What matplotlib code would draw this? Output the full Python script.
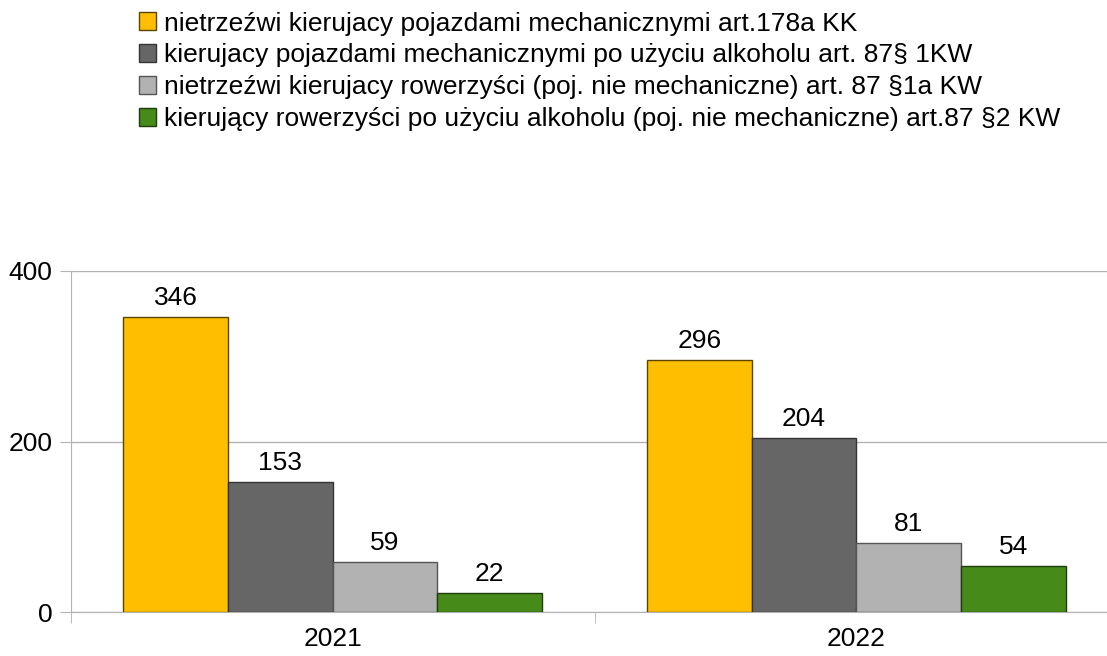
import numpy as np
import matplotlib.pyplot as plt
from matplotlib.ticker import FixedLocator

plt.rcParams['font.family'] = ['Liberation Sans', 'DejaVu Sans']

# dane
lata = ['2021', '2022']
serie = [
    'nietrzeźwi kierujacy pojazdami mechanicznymi art.178a KK',
    'kierujacy pojazdami mechanicznymi po użyciu alkoholu art. 87§ 1KW',
    'nietrzeźwi kierujacy rowerzyści (poj. nie mechaniczne) art. 87 §1a KW',
    'kierujący rowerzyści po użyciu alkoholu (poj. nie mechaniczne) art.87 §2 KW',
]
wartosci_2021 = [346, 153, 59, 22]
wartosci_2022 = [296, 204, 81, 54]
kolory = ['#ffbf00', '#666666', '#b2b2b2', '#468a1a']
krawedzie = ['#5a4400', '#333333', '#555555', '#1e3d0a']

fig = plt.figure(figsize=(11.07, 6.56), dpi=100)
ax = fig.add_axes([71 / 1107, 44 / 656, 1047 / 1107, 341 / 656])

x = np.arange(len(lata))
szer = 0.2
for i, nazwa in enumerate(serie):
    vals = [wartosci_2021[i], wartosci_2022[i]]
    bars = ax.bar(x + (i - 1.5) * szer, vals, szer, color=kolory[i],
                  edgecolor=krawedzie[i], linewidth=1, label=nazwa, zorder=3)
    for b, v in zip(bars, vals):
        ax.annotate(str(v), (b.get_x() + b.get_width() / 2, v),
                    xytext=(0, 5), textcoords='offset points',
                    ha='center', va='bottom', fontsize=19)

ax.set_xlim(-0.5, 1.5)
ax.set_ylim(0, 400)
ax.set_yticks([0, 200, 400])
ax.set_xticks(x)
ax.set_xticklabels(lata)
ax.xaxis.set_minor_locator(FixedLocator([-0.5, 0.5, 1.5]))
ax.tick_params(axis='x', which='major', length=0, labelsize=19, pad=11)
ax.tick_params(axis='x', which='minor', length=8, color='#b3b3b3', direction='out')
ax.tick_params(axis='y', length=8, color='#b3b3b3', labelsize=19, pad=5.5)
ax.grid(axis='y', color='#b3b3b3', linewidth=1, zorder=0)
for s in ['top', 'right']:
    ax.spines[s].set_visible(False)
for s in ['left', 'bottom']:
    ax.spines[s].set_color('#b3b3b3')

fig.legend(loc='upper left', bbox_to_anchor=(128 / 1107, 1 - 1 / 656),
           frameon=False, fontsize=19, handlelength=0.65, handleheight=0.65,
           handletextpad=0.3, labelspacing=0.3, borderaxespad=0)

plt.savefig('out.png', dpi=100)
